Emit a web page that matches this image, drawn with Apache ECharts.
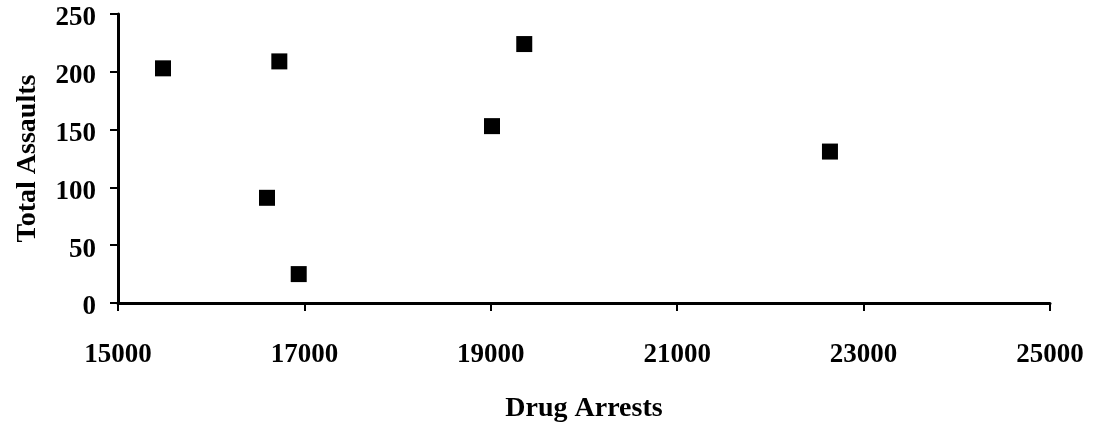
<!DOCTYPE html>
<html>
<head>
<meta charset="utf-8">
<script src="https://cdn.jsdelivr.net/npm/echarts@6/dist/echarts.min.js"></script>
<style>
html,body{margin:0;padding:0;background:#fff;}
#chart{width:1094px;height:430px;}
</style>
</head>
<body>
<div id="chart"></div>
<script>
const drugArrests = [15483, 16731, 16599, 16939, 19359, 19013, 22639];
const totalAssaults = [203, 209, 91, 25, 224, 153, 131];
const xTitle = 'Drug Arrests';
const yTitle = 'Total Assaults';

const points = drugArrests.map((x, i) => [x, totalAssaults[i]]);
const font = '"Liberation Serif", "Times New Roman", serif';

const chart = echarts.init(document.getElementById('chart'));
chart.setOption({
  animation: false,
  backgroundColor: '#ffffff',
  grid: { left: 118, right: 44, top: 14, bottom: 127 },
  xAxis: {
    type: 'value', min: 15000, max: 25000, interval: 2000,
    name: xTitle, nameLocation: 'middle', nameGap: 92,
    nameTextStyle: { fontFamily: font, fontWeight: 'bold', fontSize: 28, color: '#000' },
    axisLine: { show: true, lineStyle: { color: '#000', width: 3 } },
    axisTick: { show: true, inside: false, length: 8, lineStyle: { color: '#000', width: 2 } },
    axisLabel: { fontFamily: font, fontWeight: 'bold', fontSize: 27, color: '#000', margin: 39,
      formatter: v => String(v) },
    splitLine: { show: false }
  },
  yAxis: {
    type: 'value', min: 0, max: 250, interval: 50,
    name: yTitle, nameLocation: 'middle', nameGap: 76, nameRotate: 90,
    nameTextStyle: { fontFamily: font, fontWeight: 'bold', fontSize: 28, color: '#000' },
    axisLine: { show: true, lineStyle: { color: '#000', width: 3 } },
    axisTick: { show: true, inside: false, length: 8, lineStyle: { color: '#000', width: 2 } },
    axisLabel: { fontFamily: font, fontWeight: 'bold', fontSize: 27, color: '#000', margin: 22,
      verticalAlign: 'top', padding: [-9, 0, 0, 0] },
    splitLine: { show: false }
  },
  series: [{
    type: 'scatter',
    data: points,
    symbol: 'rect',
    symbolSize: 16,
    itemStyle: { color: '#000', opacity: 1 }
  }]
});
</script>
</body>
</html>
